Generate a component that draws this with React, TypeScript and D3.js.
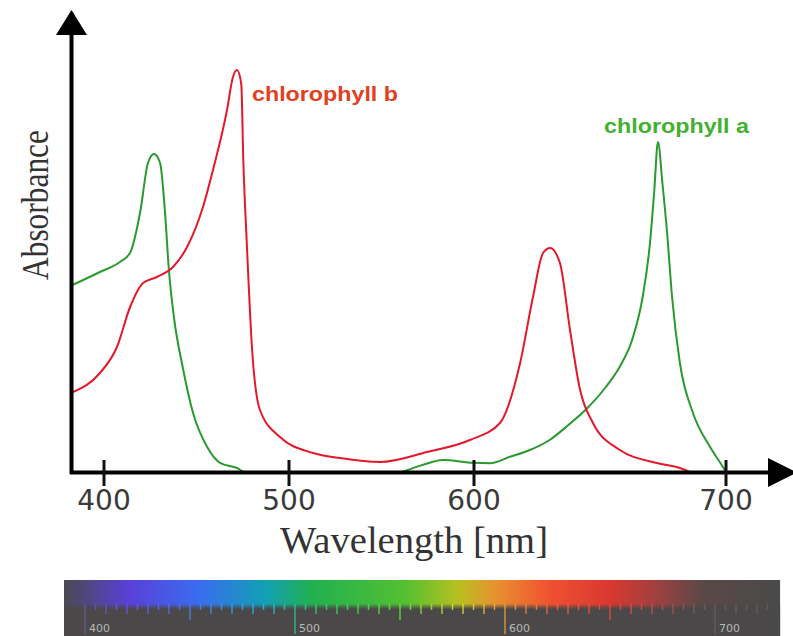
import React from "react";
import * as d3 from "d3";

// ---- data (wavelength nm, relative absorbance) ----
const chlAWavelength = [383.2, 397.8, 408.6, 414.1, 419.5, 423.8, 427.0, 430.3, 433.0, 435.0, 438.0, 442.2, 448.1, 455.7, 462.7, 471.9, 476.2, 500, 530, 558.9, 571, 583.2, 599.6, 606.3, 614.3, 622.2, 630.0, 637.0, 645.0, 652.0, 658.0, 663.0, 667.0, 669.8, 671.5, 673.0, 674.8, 676.6, 678.6, 681.7, 686.9, 693.7, 698.8, 700];
const chlAAbsorb = [0.468, 0.50, 0.525, 0.548, 0.648, 0.773, 0.795, 0.773, 0.648, 0.51, 0.38, 0.27, 0.148, 0.063, 0.023, 0.01, 0, 0, 0, 0, 0.016, 0.03, 0.023, 0.022, 0.038, 0.055, 0.08, 0.115, 0.16, 0.21, 0.265, 0.335, 0.44, 0.57, 0.7, 0.825, 0.72, 0.6, 0.4375, 0.2725, 0.1475, 0.0625, 0.0125, 0];

const chlBWavelength = [383.2, 397.8, 407.0, 414.1, 421.1, 428.6, 437.3, 444.9, 453.5, 458.9, 466.5, 469.7, 471.9, 474.2, 475.3, 477.3, 480.0, 484.3, 495.1, 513.0, 527.6, 549.2, 574.6, 597.8, 610.3, 618.3, 623.4, 627.4, 630.2, 634.1, 638.1, 642.1, 647.2, 657.9, 672.6, 681.7, 685.7];
const chlBAbsorb = [0.2, 0.2475, 0.3125, 0.4125, 0.4725, 0.4875, 0.5125, 0.5625, 0.6625, 0.755, 0.905, 0.9875, 1.005, 0.97, 0.78, 0.56, 0.31, 0.155, 0.0875, 0.0475, 0.035, 0.025, 0.05, 0.08, 0.1225, 0.2725, 0.4375, 0.5475, 0.56, 0.5225, 0.355, 0.205, 0.1225, 0.055, 0.0225, 0.01, 0];

const axisTicks = [400, 500, 600, 700];
const axisTickLabels = ["400", "500", "600", "700"];
const spectrumLabels = ["400", "500", "600", "700"];
const spectrumStopNm = [390, 421, 454, 486, 508, 552, 578, 596, 622, 650, 672, 694, 731];
const spectrumStopColor = ["#4a4a50", "#5a40d8", "#3a6cf0", "#12a0b4", "#22b050", "#52c032", "#b8c020", "#e89030", "#f05030", "#d83830", "#a04040", "#5a4848", "#4a4a4a"];

const W = 793, H = 636;

export default function App() {
  const x = d3.scaleLinear().domain([400, 500, 600, 700]).range([104, 289, 474, 726]);
  const y = d3.scaleLinear().domain([0, 1]).range([472, 72]);
  const line = d3.line<[number, number]>().x(d => x(d[0])).y(d => y(d[1])).curve(d3.curveMonotoneX);
  const aPts = chlAWavelength.map((w, i) => [w, chlAAbsorb[i]] as [number, number]);
  const bPts = chlBWavelength.map((w, i) => [w, chlBAbsorb[i]] as [number, number]);

  const spec = d3.scaleLinear().domain([400, 700]).range([85, 715]);
  const barX0 = spec(390), barX1 = spec(731);
  const color = d3.scaleLinear<string>().domain(spectrumStopNm).range(spectrumStopColor).clamp(true);
  const specTicks = d3.range(400, 730, 5);

  return (
    <svg width={W} height={H} style={{ position: "fixed", left: 0, top: 0, background: "#fff" }}>
      <defs>
        <linearGradient id="spec" x1="0" x2="1" y1="0" y2="0">
          {spectrumStopNm.map((nm, i) => (
            <stop key={i} offset={(spec(nm) - barX0) / (barX1 - barX0)} stopColor={spectrumStopColor[i]} />
          ))}
        </linearGradient>
        <linearGradient id="fade" x1="0" x2="0" y1="0" y2="1">
          <stop offset="0" stopColor="#4a4848" stopOpacity={0} />
          <stop offset="0.42" stopColor="#4a4848" stopOpacity={0} />
          <stop offset="0.52" stopColor="#4a4848" stopOpacity={1} />
          <stop offset="1" stopColor="#4a4848" stopOpacity={1} />
        </linearGradient>
      </defs>

      {/* curves */}
      <path d={line(aPts) || ""} fill="none" stroke="#2a9a30" strokeWidth={2} />
      <path d={line(bPts) || ""} fill="none" stroke="#e4182a" strokeWidth={2} />

      {/* axes */}
      <line x1={71.5} x2={71.5} y1={474} y2={30} stroke="#000" strokeWidth={4} />
      <polygon points="71.5,10 56,35 87,35" fill="#000" />
      <line x1={70} x2={775} y1={472.5} y2={472.5} stroke="#000" strokeWidth={4} />
      <polygon points="797,472.5 768,458 768,487" fill="#000" />
      {axisTicks.map((t, i) => (
        <g key={t}>
          <line x1={x(t)} x2={x(t)} y1={460} y2={486} stroke="#111" strokeWidth={3} />
          <text x={x(t)} y={510} textAnchor="middle" fontFamily="DejaVu Sans" fontSize={28} fill="#3a3a3a">{axisTickLabels[i]}</text>
        </g>
      ))}
      <text x={414} y={553} textAnchor="middle" fontFamily="Liberation Serif" fontSize={37} fill="#333" textLength={268} lengthAdjust="spacingAndGlyphs">Wavelength [nm]</text>
      <text transform="translate(48,205) rotate(-90)" textAnchor="middle" fontFamily="Liberation Serif" fontSize={37} fill="#333" textLength={150} lengthAdjust="spacingAndGlyphs">Absorbance</text>

      {/* labels */}
      <text x={252} y={101} fontFamily="Liberation Sans" fontWeight="bold" fontSize={20} fill="#e2401e" textLength={146} lengthAdjust="spacingAndGlyphs">chlorophyll b</text>
      <text x={604} y={133} fontFamily="Liberation Sans" fontWeight="bold" fontSize={20} fill="#44b030" textLength={145} lengthAdjust="spacingAndGlyphs">chlorophyll a</text>

      {/* spectrum bar */}
      <rect x={barX0} y={580} width={barX1 - barX0} height={56} fill="url(#spec)" />
      <rect x={barX0} y={580} width={barX1 - barX0} height={56} fill="url(#fade)" />
      {specTicks.map(t => {
        const len = t % 100 === 0 ? 30 : t % 50 === 0 ? 16 : t % 10 === 0 ? 10 : 6;
        const c = d3.color(color(t));
        const cs = c ? c.brighter(0.7).formatHex() : "#aaa";
        return <line key={t} x1={spec(t)} x2={spec(t)} y1={604} y2={604 + len} stroke={cs} strokeOpacity={0.75} strokeWidth={1.5} />;
      })}
      {axisTicks.map((t, i) => (
        <text key={t} x={spec(t) + 4} y={632} fontFamily="DejaVu Sans" fontSize={11} fill="#b8b8b8">{spectrumLabels[i]}</text>
      ))}
    </svg>
  );
}
